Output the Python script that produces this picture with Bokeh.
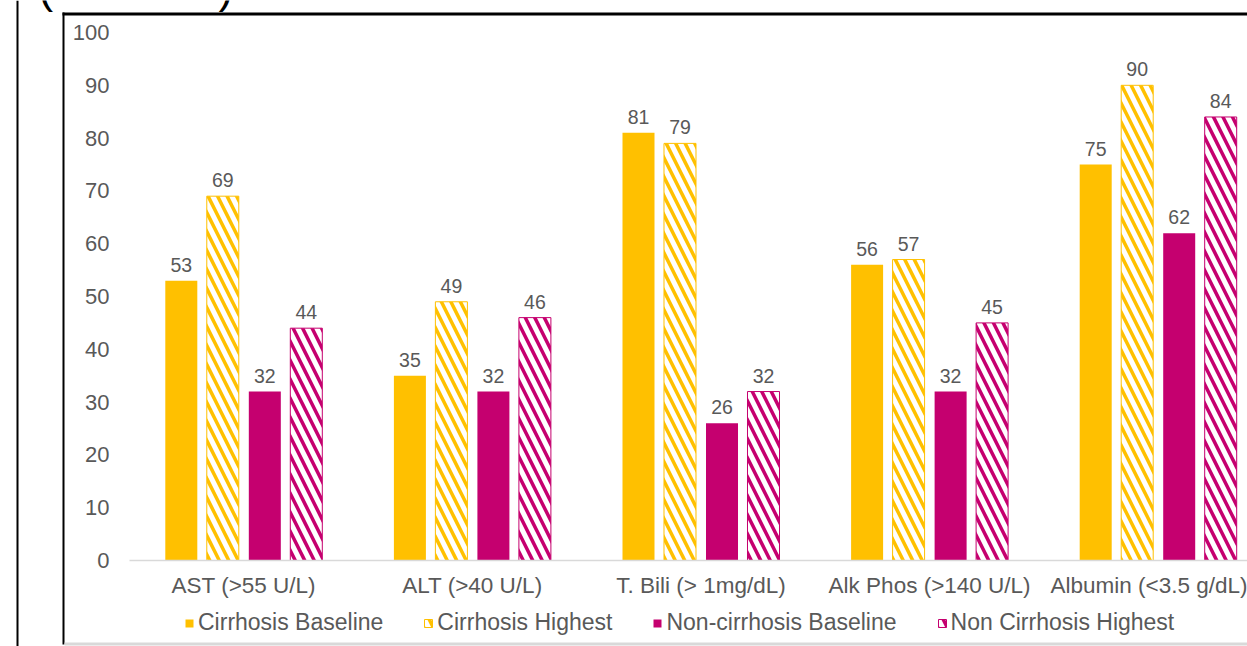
from bokeh.plotting import figure
from bokeh.models import (Range1d, FixedTicker, Legend, LegendItem, Label,
                          BoxAnnotation, ColumnDataSource)
from bokeh.core.properties import value
from bokeh.embed import file_html
from bokeh.resources import INLINE

# Share of patients above/below each liver-test threshold (%)
categories = ["AST (>55 U/L)", "ALT (>40 U/L)", "T. Bili (> 1mg/dL)",
              "Alk Phos (>140 U/L)", "Albumin (<3.5 g/dL)"]
cirrhosis_baseline = [53, 35, 81, 56, 75]
cirrhosis_highest = [69, 49, 79, 57, 90]
noncirrhosis_baseline = [32, 32, 26, 32, 62]
noncirrhosis_highest = [44, 46, 32, 45, 84]
y_ticks = [0, 10, 20, 30, 40, 50, 60, 70, 80, 90, 100]

YELLOW = "#FFC000"
MAGENTA = "#C5006F"
TEXT = "#595959"
FONT = "Liberation Sans"

W, H = 1247, 646
# pixel geometry of the value axes inside the canvas
X0_PX, GROUP_PX = 129.0, 228.6      # left end of the baseline, width of one group
Y0_PX, UNIT_PX = 560.0, 5.28        # baseline row, pixels per percentage point

p = figure(width=W, height=H, output_backend="svg", toolbar_location=None,
           x_range=Range1d(-X0_PX / GROUP_PX, (W - X0_PX) / GROUP_PX),
           y_range=Range1d(-(H - Y0_PX) / UNIT_PX, Y0_PX / UNIT_PX),
           min_border=0)
p.outline_line_color = None
p.xgrid.visible = False
p.ygrid.visible = False
p.background_fill_color = "white"
p.border_fill_color = "white"

# y axis drawn inside the frame, left of the first group
ya = p.yaxis[0]
ya.fixed_location = 0
ya.ticker = FixedTicker(ticks=y_ticks)
ya.axis_line_color = None
ya.major_tick_line_color = None
ya.major_tick_out = 0
ya.major_tick_in = 0
ya.minor_tick_line_color = None
ya.major_label_standoff = 20
ya.major_label_text_font = FONT
ya.major_label_text_font_size = "22px"
ya.major_label_text_color = TEXT

# x axis along the zero line: one label per group, light baseline
xa = p.xaxis[0]
xa.fixed_location = 0
xa.bounds = (0, len(categories))
xa.ticker = FixedTicker(ticks=[i + 0.5 for i in range(len(categories))])
xa.major_label_overrides = {i + 0.5: c for i, c in enumerate(categories)}
xa.axis_line_color = "#D9D9D9"
xa.axis_line_width = 1.5
xa.major_tick_line_color = None
xa.major_tick_out = 0
xa.major_tick_in = 0
xa.minor_tick_line_color = None
xa.major_label_standoff = 12
xa.major_label_text_font = FONT
xa.major_label_text_font_size = "22.5px"
xa.major_label_text_color = TEXT

BAR_W = 0.14
series = [
    ("Cirrhosis Baseline", cirrhosis_baseline, -0.2734, YELLOW, False),
    ("Cirrhosis Highest", cirrhosis_highest, -0.0919, YELLOW, True),
    ("Non-cirrhosis Baseline", noncirrhosis_baseline, 0.0919, MAGENTA, False),
    ("Non Cirrhosis Highest", noncirrhosis_highest, 0.2734, MAGENTA, True),
]

items = []
for name, vals, off, color, hatched in series:
    src = ColumnDataSource(dict(
        x=[i + 0.5 + off for i in range(len(vals))],
        top=vals,
        label=[str(v) for v in vals],
    ))
    if hatched:
        r = p.vbar(x="x", top="top", width=BAR_W, source=src,
                   fill_color="white", line_color=color, line_width=1,
                   hatch_pattern="left_diagonal_line", hatch_color=color,
                   hatch_scale=19, hatch_weight=3.5)
    else:
        r = p.vbar(x="x", top="top", width=BAR_W, source=src,
                   fill_color=color, line_color=None)
    p.text(x="x", y="top", text="label", source=src,
           text_align="center", text_baseline="alphabetic", y_offset=-16,
           text_font=value(FONT), text_font_size="19.5px", text_color=TEXT)
    items.append(LegendItem(label=name, renderers=[r]))

legend = Legend(items=items, orientation="horizontal", location=(184, 10),
                glyph_width=10, glyph_height=10, label_standoff=4,
                spacing=40, padding=2, margin=0,
                label_text_font=FONT, label_text_font_size="23px",
                label_text_color=TEXT, border_line_color=None,
                background_fill_alpha=0)
p.add_layout(legend)

# panel frame lines
for l, r_, t, b, c in [(16, 18, 0, 646, "black"),
                       (62, 64, 12, 644, "black"),
                       (62, 1247, 12, 15, "black"),
                       (64, 1247, 642, 645, "#D9D9D9")]:
    p.add_layout(BoxAnnotation(left=l, right=r_, top=t, bottom=b,
                               left_units="canvas", right_units="canvas",
                               top_units="canvas", bottom_units="canvas",
                               fill_color=c, fill_alpha=1, line_color=None))

# bracket ends of the panel caption
for x0, ch in [(38, "("), (218, ")")]:
    p.add_layout(Label(x=x0, y=-13, x_units="canvas", y_units="canvas",
                       text=ch, text_font=FONT, text_font_size="44px",
                       text_baseline="alphabetic", text_color="black"))

open("out.html", "w").write(file_html(p, INLINE))
